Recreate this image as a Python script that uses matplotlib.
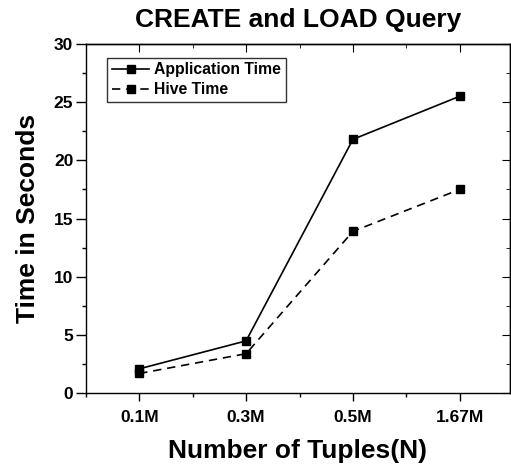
import matplotlib.pyplot as plt
from matplotlib.ticker import MultipleLocator

# Valores
categories = ["0.1M", "0.3M", "0.5M", "1.67M"]
app_time = [2.1, 4.5, 21.8, 25.5]
hive_time = [1.7, 3.4, 13.9, 17.5]

plt.rcParams.update({
    "font.family": "Liberation Sans",
    "font.weight": "bold",
    "axes.linewidth": 1.0,
})

fig = plt.figure(figsize=(5.11, 4.66), dpi=100)
ax = fig.add_axes([0.168, 0.156, 0.830, 0.750])

x = list(range(len(categories)))
ax.plot(x, app_time, color="black", linewidth=1.2, marker="s", markersize=6,
        label="Application Time")
ax.plot(x, hive_time, color="black", linewidth=1.2, linestyle=(0, (5, 3.5)),
        marker="s", markersize=6, label="Hive Time")

ax.set_xlim(-0.5, 3.47)
ax.set_ylim(0, 30)
ax.set_xticks(x)
ax.set_xticklabels(categories)
ax.xaxis.set_minor_locator(MultipleLocator(0.5))
ax.yaxis.set_major_locator(MultipleLocator(5))
ax.yaxis.set_minor_locator(MultipleLocator(2.5))

ax.tick_params(axis="both", which="major", direction="out", length=6, width=1,
               labelsize=12.5, colors="black")
ax.tick_params(axis="both", which="minor", direction="out", length=3, width=1)
ax.tick_params(axis="y", which="major", length=7, pad=2)
ax.tick_params(axis="x", which="major", pad=6)

# ticks internos no topo e à direita
top = ax.secondary_xaxis("top")
top.set_xticks(x)
top.xaxis.set_minor_locator(MultipleLocator(0.5))
top.tick_params(which="major", direction="in", length=6, labeltop=False)
top.tick_params(which="minor", direction="in", length=3)
right = ax.secondary_yaxis("right")
right.yaxis.set_major_locator(MultipleLocator(5))
right.yaxis.set_minor_locator(MultipleLocator(2.5))
right.tick_params(which="major", direction="in", length=6, labelright=False)
right.tick_params(which="minor", direction="in", length=3)

ax.set_title("CREATE and LOAD Query", fontsize=19, fontweight="bold", pad=12)
ax.set_xlabel("Number of Tuples(N)", fontsize=19, fontweight="bold", labelpad=10)
ax.set_ylabel("Time in Seconds", fontsize=19, fontweight="bold", labelpad=10)

leg = ax.legend(loc="upper left", bbox_to_anchor=(0.05, 0.96), fontsize=11.3,
                frameon=True, fancybox=False, edgecolor="black",
                handlelength=2.4, handletextpad=0.3, borderpad=0.3,
                labelspacing=0.3, borderaxespad=0)
leg.get_frame().set_linewidth(1.0)
for t in leg.get_texts():
    t.set_fontweight("bold")

fig.savefig("out.png", dpi=100)
